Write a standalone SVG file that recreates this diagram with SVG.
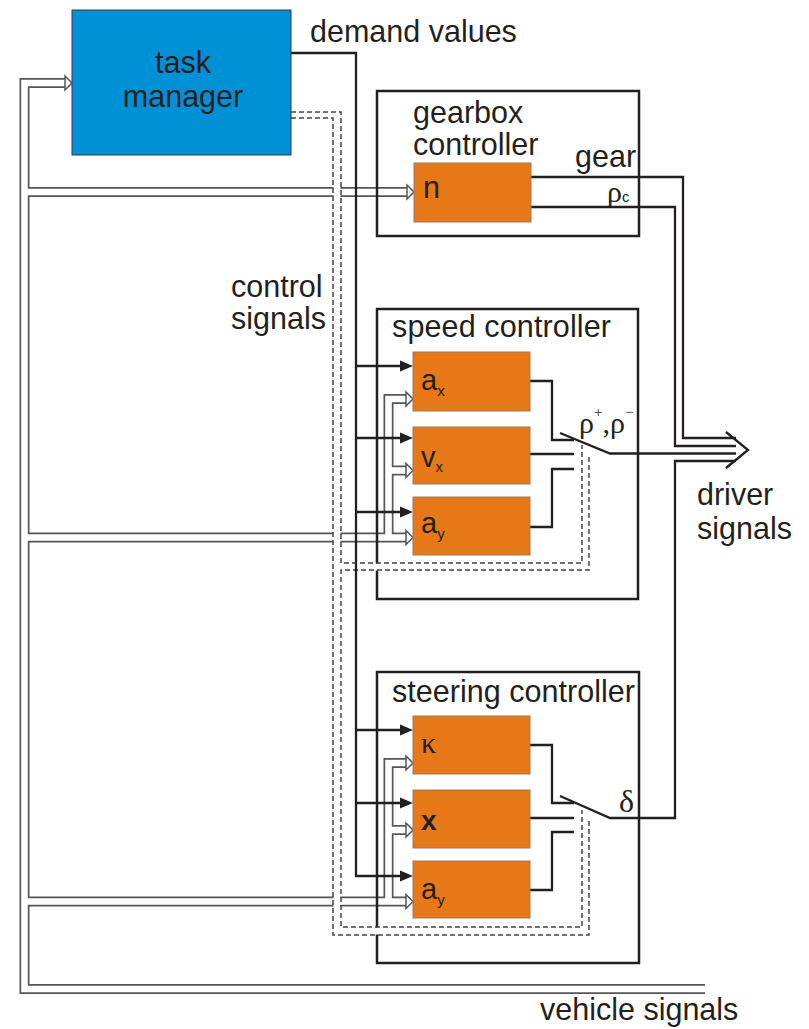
<svg xmlns="http://www.w3.org/2000/svg" width="809" height="1029" viewBox="0 0 809 1029">
<defs>
<style>
.t{font-family:"Liberation Sans",Arial,sans-serif;font-size:30.5px;fill:#231f20}
.s{font-family:"Liberation Sans",Arial,sans-serif;fill:#231f20}
.g{font-family:"Liberation Serif","Times New Roman",serif;fill:#231f20}
.box{fill:none;stroke:#231f20;stroke-width:2.5}
.blk{fill:#e67817;stroke:#9a7a62;stroke-width:1}
.bl{fill:none;stroke:#231f20;stroke-width:2.3;stroke-linejoin:miter}
.hg{fill:none;stroke:#555;stroke-width:10}
.hw{fill:none;stroke:#fff;stroke-width:6.6}
.db{fill:none;stroke:#fff;stroke-width:7}
.dl{fill:none;stroke:#444;stroke-width:1.5;stroke-dasharray:5 3}
.ah{fill:#231f20}
.ho{fill:#fff;stroke:#555;stroke-width:1.5}
</style>
</defs>
<rect width="809" height="1029" fill="#fff"/>

<g id="connectors">
  <g id="vehicle-signal-bus">
    <g class="hg">
      <path d="M65,83 H24.5 V989 H705"/>
      <path d="M24.5,192 H407"/>
      <path d="M24.5,537.5 H406"/>
      <path d="M388.5,537.5 V399 H406"/>
      <path d="M388.5,470.5 H406"/>
      <path d="M24.5,901.5 H406"/>
      <path d="M388.5,901.5 V763 H406"/>
      <path d="M388.5,830 H406"/>
    </g>
    <g class="hw">
      <path d="M65,83 H24.5 V989 H705"/>
      <path d="M24.5,192 H407"/>
      <path d="M24.5,537.5 H406"/>
      <path d="M388.5,537.5 V399 H406"/>
      <path d="M388.5,470.5 H406"/>
      <path d="M24.5,901.5 H406"/>
      <path d="M388.5,901.5 V763 H406"/>
      <path d="M388.5,830 H406"/>
    </g>
    <g class="ho">
      <polygon points="65,76 72,83 65,90"/>
      <polygon points="407,185 414,192 407,199"/>
      <polygon points="406,392 413,399 406,406"/>
      <polygon points="406,463.5 413,470.5 406,477.5"/>
      <polygon points="406,530.5 413,537.5 406,544.5"/>
      <polygon points="406,756 413,763 406,770"/>
      <polygon points="406,823 413,830 406,837"/>
      <polygon points="406,894.5 413,901.5 406,908.5"/>
    </g>
  </g>
</g>

<g id="controller-boxes">
  <rect id="gearbox-box" class="box" x="377" y="91" width="262" height="145"/>
  <rect id="speed-box" class="box" x="377" y="309" width="261" height="290"/>
  <rect id="steering-box" class="box" x="377" y="672" width="262" height="291"/>
</g>

<g id="control-signals">
  <g class="db">
    <path d="M291,115 H337 V931 H585.5 V814"/>
    <path d="M337,567 H585.5 V451"/>
  </g>
  <g class="dl">
    <path d="M291,112 H341 V563 H582 V445"/>
    <path d="M589,457 V570 H341 V927 H582 V810"/>
    <path d="M291,118 H333 V935 H589 V818"/>
  </g>
</g>

<g id="signal-lines">
  <g class="bl">
    <path d="M291,53 H356 V876 H402"/>
    <path d="M356,366 H402"/>
    <path d="M356,438 H402"/>
    <path d="M356,512 H402"/>
    <path d="M356,730 H402"/>
    <path d="M356,803 H402"/>
    <path d="M531,177 H683 V438 H736"/>
    <path d="M531,207 H675 V446 H736"/>
    <path d="M530,381 H552 V440 H574"/>
    <path d="M530,454 H574"/>
    <path d="M530,527 H552 V469 H574"/>
    <path d="M560,433 L610,453.5 H736"/>
    <path d="M530,745 H552 V803 H574"/>
    <path d="M530,818 H574"/>
    <path d="M530,890 H552 V832 H574"/>
    <path d="M560,796 L610,818 H675 V461 H736"/>
    <path d="M726,432 L748,450 L726,468"/>
  </g>
  <g class="ah">
    <polygon points="400,360.5 413,366 400,371.5"/>
    <polygon points="400,432.5 413,438 400,443.5"/>
    <polygon points="400,506.5 413,512 400,517.5"/>
    <polygon points="400,724.5 413,730 400,735.5"/>
    <polygon points="400,797.5 413,803 400,808.5"/>
    <polygon points="400,870.5 413,876 400,881.5"/>
  </g>
</g>

<g id="task-manager">
  <rect x="72" y="10" width="219" height="145" fill="#0090d6" stroke="#3a3a3a" stroke-width="1"/>
  <text class="t" x="183" y="73" text-anchor="middle">task</text>
  <text class="t" x="183" y="107" text-anchor="middle">manager</text>
</g>

<g id="gearbox-controller">
  <text class="t" x="413" y="123">gearbox</text>
  <text class="t" x="413" y="155">controller</text>
  <g id="block-n">
    <rect class="blk" x="414" y="163" width="117" height="59"/>
    <text class="t" x="423" y="198">n</text>
  </g>
</g>

<g id="speed-controller">
  <text class="t" x="392" y="337" textLength="219">speed controller</text>
  <g id="block-ax">
    <rect class="blk" x="413" y="352" width="117" height="59"/>
    <text class="s" x="421" y="390" font-size="29">a<tspan font-size="15" dy="6">x</tspan></text>
  </g>
  <g id="block-vx">
    <rect class="blk" x="413" y="427" width="117" height="57"/>
    <text class="s" x="421" y="467" font-size="29">v<tspan font-size="15" dy="5">x</tspan></text>
  </g>
  <g id="block-ay1">
    <rect class="blk" x="413" y="497" width="117" height="58"/>
    <text class="s" x="421" y="533" font-size="29">a<tspan font-size="15" dy="6">y</tspan></text>
  </g>
</g>

<g id="steering-controller">
  <text class="t" x="392" y="702" textLength="243">steering controller</text>
  <g id="block-kappa">
    <rect class="blk" x="413" y="716" width="117" height="58"/>
    <text class="g" x="421" y="753" font-size="30">κ</text>
  </g>
  <g id="block-x">
    <rect class="blk" x="413" y="790" width="117" height="58"/>
    <text class="s" x="421" y="830" font-size="28" font-weight="bold">x</text>
  </g>
  <g id="block-ay2">
    <rect class="blk" x="413" y="861" width="117" height="57"/>
    <text class="s" x="421" y="899" font-size="29">a<tspan font-size="15" dy="6">y</tspan></text>
  </g>
</g>

<g id="labels">
  <text class="t" x="310" y="42">demand values</text>
  <text class="t" x="231" y="297">control</text>
  <text class="t" x="231" y="329">signals</text>
  <text class="t" x="575" y="167">gear</text>
  <text class="g" x="607" y="202" font-size="30">ρ<tspan class="s" font-size="15">c</tspan></text>
  <text class="g" x="579" y="433" font-size="30">ρ<tspan font-size="15" dy="-16">+</tspan><tspan dy="16">,ρ</tspan><tspan font-size="15" dy="-16">−</tspan></text>
  <text class="g" x="619" y="812" font-size="32">δ</text>
  <text class="t" x="697" y="505">driver</text>
  <text class="t" x="697" y="539">signals</text>
  <text class="t" x="540" y="1020">vehicle signals</text>
</g>
</svg>
